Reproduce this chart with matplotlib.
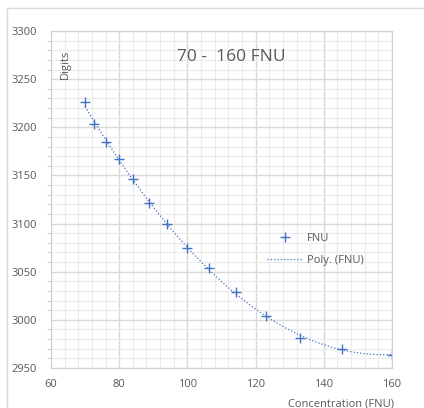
import numpy as np
import matplotlib
matplotlib.use("Agg")
import matplotlib.pyplot as plt
from matplotlib.patches import Rectangle

conc = [70, 72.6, 76.1, 79.9, 84.0, 88.7, 94.0, 99.9, 106.3, 114.3, 123.0, 133.0, 145.3, 160]
digits = [3226, 3203, 3185, 3167, 3146, 3121, 3100, 3075, 3054, 3029, 3004, 2981, 2970, 2964]

title = "70 -  160 FNU"
xticks = [60, 80, 100, 120, 140, 160]
yticks = [2950, 3000, 3050, 3100, 3150, 3200, 3250, 3300]

blue = "#4472C4"
txt = "#595959"

plt.rcParams['font.family'] = ['Open Sans', 'DejaVu Sans']

W, H = 424, 408
fig = plt.figure(figsize=(W/100, H/100), dpi=100)

# outer chart frame
fig.patches.append(Rectangle((7/W, -0.1), 2, (H-8)/H + 0.1, transform=fig.transFigure,
                             fill=False, edgecolor="#d9d9d9", lw=1))

ax = fig.add_axes([51/W, 40/H, 341/W, 337/H])
ax.set_xlim(60, 160)
ax.set_ylim(2950, 3300)
ax.set_xticks(xticks)
ax.set_yticks(yticks)
ax.set_xticks(np.arange(60, 161, 4), minor=True)
ax.set_yticks(np.arange(2950, 3301, 10), minor=True)
ax.grid(True, which="major", color="#d9d9d9", lw=1)
ax.grid(True, which="minor", color="#ebebeb", lw=0.8)
ax.set_axisbelow(True)
for s in ax.spines.values():
    s.set_color("#d0d0d0")
ax.tick_params(axis="both", which="both", colors="#bfbfbf", labelcolor=txt, labelsize=8)
ax.tick_params(axis="x", which="both", length=0, pad=8)
ax.tick_params(axis="y", which="major", length=0, pad=10)
ax.tick_params(axis="y", which="minor", length=3)

# 2nd order trendline
coef = np.polyfit(conc, digits, 2)
xs = np.linspace(min(conc), max(conc), 200)
ax.plot(conc, digits, linestyle="none", marker="+", ms=7, mew=1, color=blue, label="FNU")
ax.plot(xs, np.polyval(coef, xs), linestyle=":", lw=0.9, color=blue, label="Poly. (FNU)")

ax.text(0.53, 0.922, title, transform=ax.transAxes, ha="center", va="center",
        fontsize=12.5, color=txt)
ax.text(0.042, 0.9, "Digits", transform=ax.transAxes, rotation=90, ha="center",
        va="center", fontsize=8, color=txt)
fig.text(341/W, 4/H, "Concentration (FNU)", ha="center", va="center", fontsize=8, color=txt)

ax.legend(loc="upper left", bbox_to_anchor=(0.604, 0.43), frameon=False, fontsize=8,
          labelcolor=txt, handlelength=3.2, handletextpad=0.4, labelspacing=1.0)

fig.savefig("out.png", dpi=100)
